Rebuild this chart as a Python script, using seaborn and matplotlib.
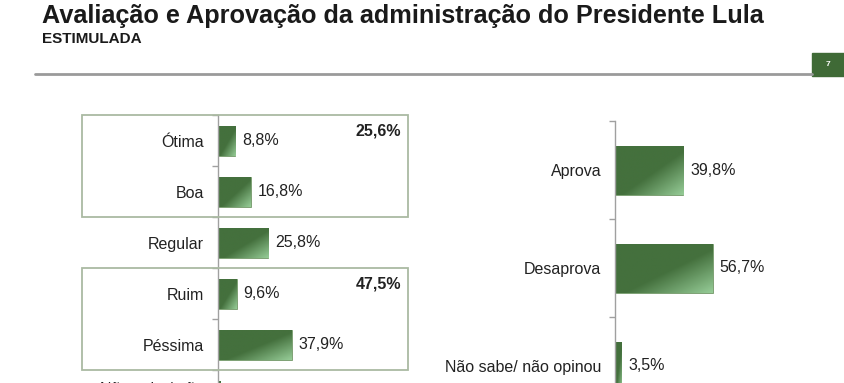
import numpy as np
import matplotlib.pyplot as plt
import seaborn as sns
from matplotlib.patches import Rectangle
from matplotlib.lines import Line2D
from matplotlib.transforms import blended_transform_factory
from matplotlib.colors import LinearSegmentedColormap

# === Dados ===
avaliacao_cats = ["Ótima", "Boa", "Regular", "Ruim", "Péssima", "Não sabe/ não\nopinou"]
avaliacao_vals = [8.8, 16.8, 25.8, 9.6, 37.9, 1.1]
grupo_totais = ["25,6%", "47,5%"]
grupo_faixas = [(0, 1), (3, 4)]

aprovacao_cats = ["Aprova", "Desaprova", "Não sabe/ não opinou"]
aprovacao_vals = [39.8, 56.7, 3.5]

titulo = "Avaliação e Aprovação da administração do Presidente Lula"
subtitulo = "ESTIMULADA"
pagina = "7"

sns.set_theme(style="white")
plt.rcParams['font.family'] = ['Liberation Sans', 'DejaVu Sans']

W, H = 845, 383
fig = plt.figure(figsize=(W / 100, H / 100), dpi=100)


def px(x, y, w, h):
    return [x / W, 1 - (y + h) / H, w / W, h / H]


verde = "#44703d"
verde_claro = "#95cb96"
cinza = "#a0a0a0"
cmap = LinearSegmentedColormap.from_list(
    "barra", [(0, verde), (0.55, verde), (1, verde_claro)])


def fmt(v):
    return f"{v:.1f}%".replace(".", ",")


def desenha(ax, cats, vals, largura, xmax):
    sns.barplot(x=vals, y=cats, ax=ax, color=verde, width=largura,
                orient="h", saturation=1, edgecolor="#7aa070", linewidth=0.6)
    # degradê nas barras (canto inferior direito mais claro)
    for p in ax.patches:
        x0, y0 = p.get_x(), p.get_y()
        w, h = p.get_width(), p.get_height()
        i, j = np.mgrid[0:1:40j, 0:1:80j]
        g = (i + j) / 2
        im = ax.imshow(g, cmap=cmap, vmin=0, vmax=1, aspect="auto",
                       extent=(x0, x0 + w, y0 + h, y0), origin="upper",
                       interpolation="bilinear", zorder=p.get_zorder())
        im.set_clip_path(p)
    for i, v in enumerate(vals):
        ax.annotate(fmt(v), xy=(v, i), xytext=(5, 0), textcoords="offset points",
                    va="center", ha="left", fontsize=11.5, color="#222222")
    ax.set_xlim(0, xmax)
    ax.set_ylim(len(cats) - 0.5, -0.5)
    ax.set_xlabel("")
    ax.set_ylabel("")
    ax.xaxis.set_visible(False)
    sns.despine(ax=ax, top=True, right=True, bottom=True, left=False)
    ax.spines["left"].set_color(cinza)
    ax.spines["left"].set_linewidth(1)
    ax.set_yticks(np.arange(len(cats) + 1) - 0.5, minor=True)
    ax.tick_params(axis="y", which="major", length=0, pad=10,
                   labelsize=11.5, labelcolor="#222222")
    ax.tick_params(axis="y", which="minor", length=4, color=cinza, width=1,
                   direction="out", left=True)
    ax.set_facecolor("none")


# === Avaliação ===
ax1 = fig.add_axes(px(218, 115.5, 195, 306))
desenha(ax1, avaliacao_cats, avaliacao_vals, 0.6, 100)

trans = blended_transform_factory(fig.transFigure, ax1.transData)
for (a, b), total in zip(grupo_faixas, grupo_totais):
    ax1.add_patch(Rectangle((82 / W, a - 0.5), (408 - 82) / W, b - a + 1,
                            transform=trans, fill=False, edgecolor="#aabaa2",
                            linewidth=1.3, clip_on=False, zorder=5))
    ax1.annotate(total, xy=(408 / W, a - 0.5), xycoords=trans,
                 xytext=(-5, -6), textcoords="offset points",
                 ha="right", va="top", fontsize=11.5, fontweight="bold",
                 color="#222222", annotation_clip=False)

# === Aprovação ===
ax2 = fig.add_axes(px(615, 121, 172, 294))
desenha(ax2, aprovacao_cats, aprovacao_vals, 0.5, 100)

# === Cabeçalho ===
fig.text(42 / W, 1 - 4 / H, titulo, ha="left", va="top", fontsize=18.2,
         fontweight="bold", color="#1a1a1a")
fig.text(42 / W, 1 - 32 / H, subtitulo, ha="left", va="top", fontsize=11,
         fontweight="bold", color="#1a1a1a")
fig.add_artist(Line2D([35 / W, 812 / W], [1 - 74 / H, 1 - 74 / H],
                      transform=fig.transFigure, color="#9a9a9a", linewidth=2))
fig.add_artist(Rectangle((812 / W, 1 - 76 / H), 33 / W, 23 / H,
                         transform=fig.transFigure, color="#3f6a36"))
fig.text(828 / W, 1 - 65 / H, pagina, ha="center", va="center", fontsize=6,
         fontweight="bold", color="white")

fig.savefig("out.png", dpi=100)
